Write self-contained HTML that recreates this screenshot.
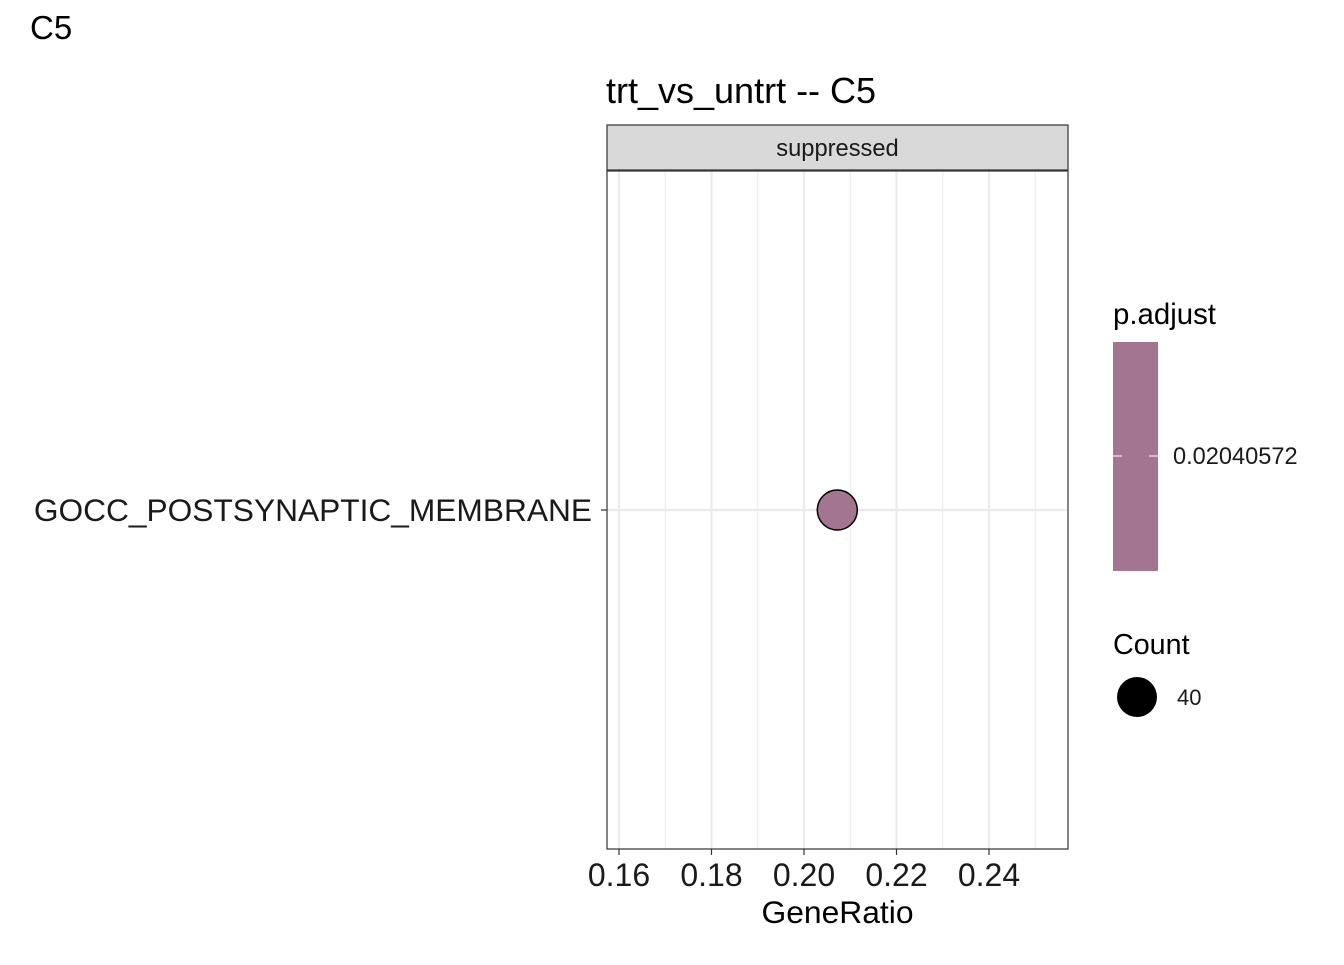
<!DOCTYPE html>
<html><head><meta charset="utf-8"><style>
body{margin:0;background:#fff;}
svg text{font-family:"Liberation Sans",sans-serif;}
</style></head><body>
<svg width="1344" height="960" xmlns="http://www.w3.org/2000/svg" id="chart">
<text x="30" y="39" font-size="33" fill="#000">C5</text>
<text x="606" y="103" font-size="36" fill="#000">trt_vs_untrt -- C5</text>
<rect x="607" y="125" width="461" height="45" fill="#d9d9d9" stroke="#333" stroke-width="1.2"/>
<text x="837.5" y="156" font-size="23.7" text-anchor="middle" fill="#1a1a1a">suppressed</text>
<g id="grid"></g>
<rect x="607" y="171" width="461" height="678" fill="none" stroke="#333" stroke-width="1.2"/>
<g id="marks"></g>
<g id="axes"></g>
<text x="837.5" y="923" font-size="31.8" text-anchor="middle" fill="#000">GeneRatio</text>
<text x="1113" y="324" font-size="29.4" fill="#000">p.adjust</text>
<rect x="1113" y="342" width="45" height="229" fill="#a47590"/>
<line x1="1113" y1="456" x2="1122" y2="456" stroke="#fff" stroke-width="1"/>
<line x1="1149" y1="456" x2="1158" y2="456" stroke="#fff" stroke-width="1"/>
<text x="1173" y="464" font-size="23.6" fill="#1a1a1a">0.02040572</text>
<text x="1113" y="654" font-size="28.7" fill="#000">Count</text>
<circle cx="1137" cy="697" r="20" fill="#000"/>
<text x="1177" y="705" font-size="22" fill="#1a1a1a">40</text>
</svg>
<script>
const categories=["GOCC_POSTSYNAPTIC_MEMBRANE"];
const geneRatio=[0.2072];
const counts=[40];
const xTicks=[0.16,0.18,0.20,0.22,0.24];
const xTickLabels=["0.16","0.18","0.20","0.22","0.24"];
const NS="http://www.w3.org/2000/svg";
function x(v){return 619+(v-0.16)/0.02*92.5;}
function y(i){return 510+i*60;}
function mk(t,a,p){const e=document.createElementNS(NS,t);for(const k in a)e.setAttribute(k,a[k]);p.appendChild(e);return e;}
const g=document.getElementById('grid'),m=document.getElementById('marks'),ax=document.getElementById('axes');
for(let i=0;i<xTicks.length;i++){
  const v=xTicks[i];
  const l=mk('line',{x1:x(v),x2:x(v),y1:171,y2:849,stroke:'#ebebeb','stroke-width':2.2},g);
  
  
  const mn=mk('line',{x1:x(v+0.01),x2:x(v+0.01),y1:171,y2:849,stroke:'#ebebeb','stroke-width':1.1},g);
  
  
  mk('line',{x1:x(v),x2:x(v),y1:849,y2:855,stroke:'#333','stroke-width':1.2},ax);
  const t=mk('text',{x:x(v),y:886,'font-size':32,'text-anchor':'middle',fill:'#1a1a1a'},ax);
  t.textContent=xTickLabels[i];
  
  
}
categories.forEach((c,i)=>{
  const gl=mk('line',{x1:607,x2:1068,y1:y(i),y2:y(i),stroke:'#ebebeb','stroke-width':2.2},g);
  
  
  mk('line',{x1:601,x2:607,y1:y(i),y2:y(i),stroke:'#333','stroke-width':1.2},ax);
  const t=mk('text',{x:592,y:y(i)+11,'font-size':31.7,'text-anchor':'end',fill:'#1a1a1a'},ax);
  t.textContent=c;
  
  
  const r=20*Math.sqrt(counts[i]/40);
  const p=mk('circle',{cx:x(geneRatio[i]),cy:y(i),r:r,fill:'#a47590',stroke:'#000','stroke-width':1.5},m);
  
  
});
</script>
</body></html>
